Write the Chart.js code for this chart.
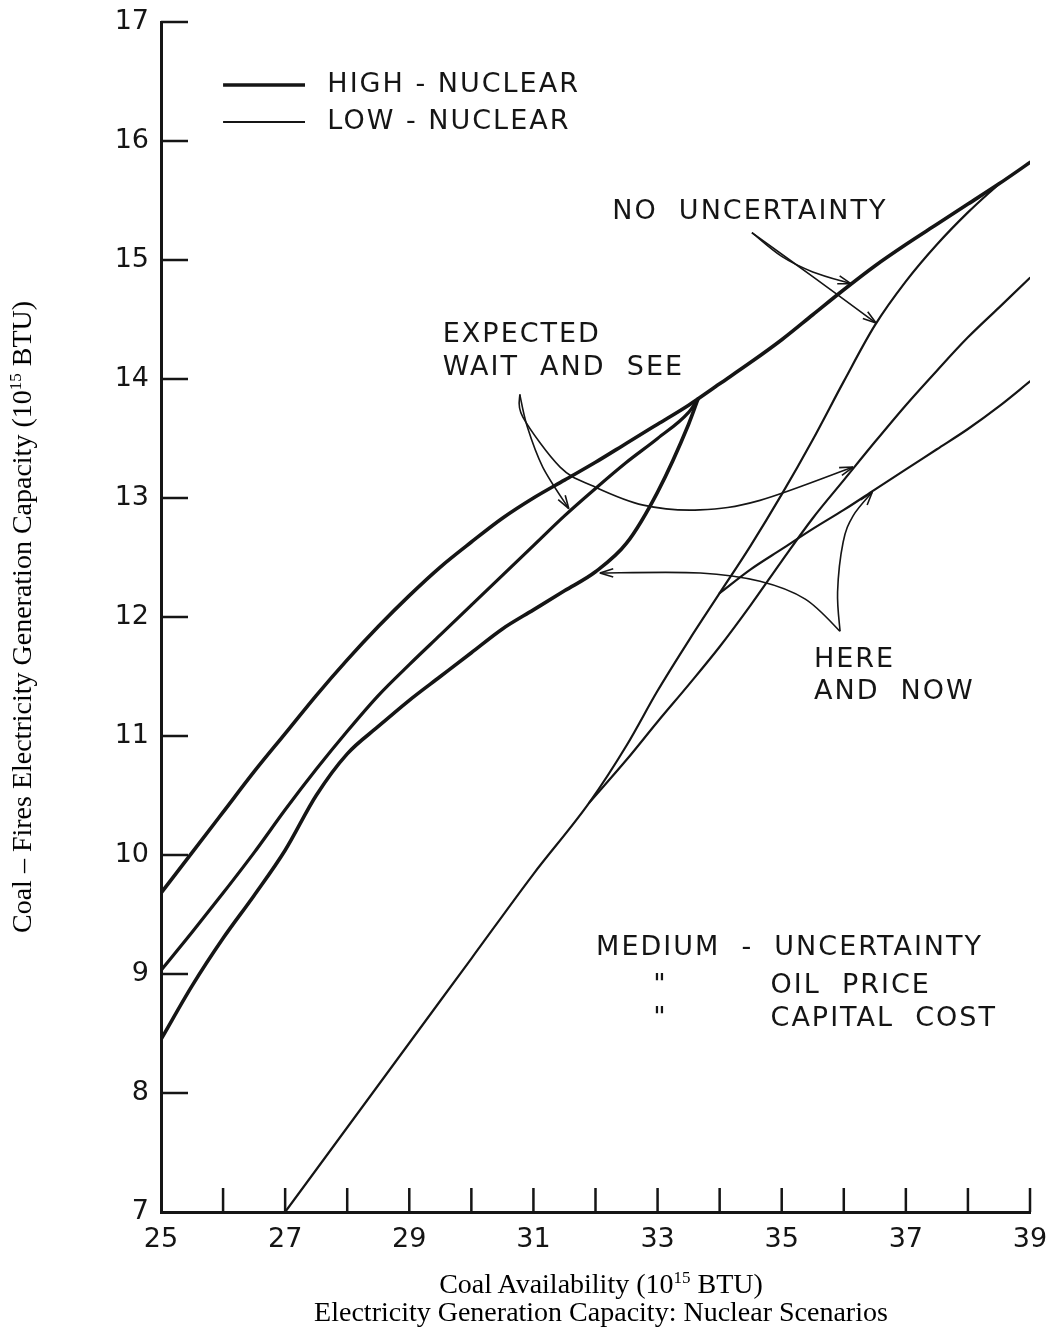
<!DOCTYPE html>
<html>
<head>
<meta charset="utf-8">
<title>Electricity Generation Capacity: Nuclear Scenarios</title>
<script src="https://cdn.jsdelivr.net/npm/chart.js@4.4.1/dist/chart.umd.min.js"></script>
<style>
  body { margin: 0; background: #fff; }
  #wrap { position: relative; width: 1046px; height: 1335px; }
  #chart { position: absolute; left: 0; top: 0; }
  .caption {
    position: absolute;
    font-family: 'Liberation Serif', 'Times New Roman', serif;
    font-size: 28px;
    color: #000;
    white-space: nowrap;
    line-height: 1;
  }
  .caption sup { font-size: 17px; vertical-align: 10px; line-height: 0; }
  #xTitle { left: 601px; top: 1270px; transform: translateX(-50%); }
  #chartTitle { left: 601px; top: 1298px; transform: translateX(-50%); }
  #yTitle { left: 22px; top: 617px; transform: translate(-50%, -50%) rotate(-90deg); }
</style>
</head>
<body>
<div id="wrap">
  <canvas id="chart" width="1046" height="1335"></canvas>
  <div class="caption" id="xTitle">Coal Availability (10<sup>15</sup> BTU)</div>
  <div class="caption" id="chartTitle">Electricity Generation Capacity: Nuclear Scenarios</div>
  <div class="caption" id="yTitle">Coal – Fires Electricity Generation Capacity (10<sup>15</sup> BTU)</div>
</div>
<script>
// DATA

// high-nuclear, no uncertainty (top envelope)
const highX = [25, 25.5, 26, 26.5, 27, 27.5, 28, 28.5, 29, 29.5, 30, 30.5, 31, 31.5, 32, 32.5, 33, 33.5, 34, 34.5, 35, 35.5, 36, 36.5, 37, 37.5, 38, 38.5, 39];
const highNoUncertainty = [9.68, 10.02, 10.36, 10.7, 11.02, 11.34, 11.64, 11.92, 12.18, 12.42, 12.63, 12.83, 13.0, 13.15, 13.3, 13.46, 13.62, 13.78, 13.96, 14.14, 14.33, 14.54, 14.75, 14.95, 15.13, 15.3, 15.47, 15.64, 15.82];

// high-nuclear, the two curves that join the envelope near 33.65
const highJoinX = [25, 25.5, 26, 26.5, 27, 27.5, 28, 28.5, 29, 29.5, 30, 30.5, 31, 31.5, 32, 32.5, 33, 33.5, 33.65];
const highWaitAndSee = [9.03, 9.35, 9.68, 10.02, 10.38, 10.72, 11.04, 11.34, 11.6, 11.85, 12.1, 12.35, 12.6, 12.85, 13.08, 13.3, 13.5, 13.72, 13.83];
const highHereAndNow = [8.45, 8.9, 9.3, 9.66, 10.04, 10.5, 10.85, 11.08, 11.3, 11.5, 11.7, 11.9, 12.06, 12.22, 12.38, 12.62, 13.05, 13.62, 13.83];

// low-nuclear
const lowNoUncX = [27, 28, 29, 30, 31, 31.9, 32.5, 33, 33.5, 34, 34.5, 35, 35.5, 36, 36.5, 37, 37.5, 38, 38.5];
const lowNoUncertainty = [7.0, 7.71, 8.42, 9.13, 9.84, 10.44, 10.92, 11.38, 11.8, 12.2, 12.6, 13.03, 13.49, 13.98, 14.45, 14.82, 15.13, 15.4, 15.64];

const lowWaitX = [31.9, 32.5, 33, 33.5, 34, 34.5, 35, 35.5, 36, 36.5, 37, 37.5, 38, 38.5, 39];
const lowWaitAndSee = [10.44, 10.8, 11.12, 11.43, 11.75, 12.1, 12.47, 12.83, 13.15, 13.47, 13.78, 14.07, 14.35, 14.6, 14.85];

const lowHereX = [34, 34.5, 35, 35.5, 36, 36.5, 37, 37.5, 38, 38.5, 39];
const lowHereAndNow = [12.2, 12.4, 12.57, 12.74, 12.9, 13.07, 13.24, 13.41, 13.58, 13.77, 13.98];

// axis ranges
const xRange = [25, 39];
const yRange = [7, 17];

// ANNOTATIONS (in data units)

const noteTexts = [
  { text: 'NO  UNCERTAINTY', x: 32.27, y: 15.4 },
  { text: 'EXPECTED', x: 29.54, y: 14.37 },
  { text: 'WAIT  AND  SEE', x: 29.54, y: 14.09 },
  { text: 'HERE', x: 35.52, y: 11.64 },
  { text: 'AND  NOW', x: 35.52, y: 11.37 },
  { text: 'MEDIUM  -  UNCERTAINTY', x: 32.01, y: 9.22 },
  { text: '"', x: 32.93, y: 8.9 },
  { text: 'OIL  PRICE', x: 34.82, y: 8.9 },
  { text: '"', x: 32.93, y: 8.62 },
  { text: 'CAPITAL  COST', x: 34.82, y: 8.62 },
];

const arrowPaths = [
  // no uncertainty
  [[34.52, 15.23], [35.0, 15.03], [35.5, 14.9], [36.12, 14.8]],
  [[34.52, 15.23], [35.5, 14.86], [36.52, 14.47]],
  // expected wait and see
  [[30.78, 13.87], [30.9, 13.6], [31.15, 13.26], [31.57, 12.91]],
  [[30.78, 13.87], [30.83, 13.68], [31.43, 13.26], [31.96, 13.1], [32.77, 12.94], [33.68, 12.9], [34.65, 12.98], [36.15, 13.26]],
  // here and now
  [[35.94, 11.88], [35.38, 12.15], [34.65, 12.3], [33.69, 12.37], [32.07, 12.37]],
  [[35.94, 11.88], [35.9, 12.21], [35.99, 12.63], [36.15, 12.85], [36.46, 13.05]],
];

const legendItems = [
  { text: 'HIGH - NUCLEAR', y: 16.47, width: 3.6 },
  { text: 'LOW - NUCLEAR', y: 16.16, width: 2 },
];

const ink = '#151515';
const letterFont = '27px "DejaVu Sans", sans-serif';

const toPoints = (xs, ys) => ys.map((v, i) => ({ x: xs[i], y: v }));

const lineSet = (label, xs, ys, width) => ({
  label,
  data: toPoints(xs, ys),
  borderColor: ink,
  borderWidth: width,
  pointRadius: 0,
  fill: false,
  cubicInterpolationMode: 'monotone',
  borderCapStyle: 'round',
});

// smooth curve through a list of pixel points (catmull-rom)
const smoothPath = (ctx, pts) => {
  ctx.moveTo(pts[0][0], pts[0][1]);
  for (let i = 0; i < pts.length - 1; i++) {
    const p0 = pts[i - 1] || pts[i];
    const p1 = pts[i];
    const p2 = pts[i + 1];
    const p3 = pts[i + 2] || p2;
    ctx.bezierCurveTo(
      p1[0] + (p2[0] - p0[0]) / 6, p1[1] + (p2[1] - p0[1]) / 6,
      p2[0] - (p3[0] - p1[0]) / 6, p2[1] - (p3[1] - p1[1]) / 6,
      p2[0], p2[1]
    );
  }
};

// Draws the inside tick marks, legend, notes and arrows
const sketchPlugin = {
  id: 'sketch',
  afterDatasetsDraw(chart) {
    const { ctx, scales: { x, y } } = chart;
    const px = (v) => x.getPixelForValue(v);
    const py = (v) => y.getPixelForValue(v);

    ctx.save();
    ctx.strokeStyle = ink;
    ctx.fillStyle = ink;
    ctx.lineCap = 'butt';

    // tick marks point into the plot
    ctx.lineWidth = 2.5;
    ctx.beginPath();
    for (let v = x.min + 1; v <= x.max; v++) {
      ctx.moveTo(px(v), y.bottom);
      ctx.lineTo(px(v), y.bottom - 24);
    }
    for (let v = y.min + 1; v <= y.max; v++) {
      ctx.moveTo(x.left, py(v));
      ctx.lineTo(x.left + 27, py(v));
    }
    ctx.stroke();

    // legend
    ctx.font = letterFont;
    ctx.letterSpacing = '2px';
    ctx.textBaseline = 'middle';
    ctx.textAlign = 'left';
    legendItems.forEach((item) => {
      ctx.lineWidth = item.width;
      ctx.beginPath();
      ctx.moveTo(px(26.0), py(item.y));
      ctx.lineTo(px(27.32), py(item.y));
      ctx.stroke();
      ctx.fillText(item.text, px(27.68), py(item.y));
    });

    // notes
    noteTexts.forEach((n) => ctx.fillText(n.text, px(n.x), py(n.y)));

    // arrows
    ctx.lineWidth = 1.6;
    arrowPaths.forEach((path) => {
      const pts = path.map(([a, b]) => [px(a), py(b)]);
      ctx.beginPath();
      smoothPath(ctx, pts);
      ctx.stroke();
      const [tx, ty] = pts[pts.length - 1];
      const [sx, sy] = pts[pts.length - 2];
      const ang = Math.atan2(ty - sy, tx - sx);
      ctx.beginPath();
      ctx.moveTo(tx, ty);
      ctx.lineTo(tx - 14 * Math.cos(ang - 0.3), ty - 14 * Math.sin(ang - 0.3));
      ctx.moveTo(tx, ty);
      ctx.lineTo(tx - 14 * Math.cos(ang + 0.3), ty - 14 * Math.sin(ang + 0.3));
      ctx.stroke();
    });

    ctx.restore();
  },
};

const tickFont = { family: '"DejaVu Sans", sans-serif', size: 27 };

new Chart(document.getElementById('chart'), {
  type: 'line',
  data: {
    datasets: [
      lineSet('High-nuclear no uncertainty', highX, highNoUncertainty, 3.6),
      lineSet('High-nuclear expected wait and see', highJoinX, highWaitAndSee, 3.2),
      lineSet('High-nuclear here and now', highJoinX, highHereAndNow, 3.6),
      lineSet('Low-nuclear no uncertainty', lowNoUncX, lowNoUncertainty, 2.2),
      lineSet('Low-nuclear expected wait and see', lowWaitX, lowWaitAndSee, 2.2),
      lineSet('Low-nuclear here and now', lowHereX, lowHereAndNow, 2.2),
    ],
  },
  options: {
    responsive: false,
    animation: false,
    layout: { padding: { top: 22, right: 16, bottom: 0, left: 0 } },
    plugins: {
      legend: { display: false },
      tooltip: { enabled: false },
    },
    scales: {
      x: {
        type: 'linear',
        min: xRange[0],
        max: xRange[1],
        grid: { display: false, drawTicks: false },
        border: { display: true, color: ink, width: 3 },
        ticks: {
          stepSize: 1,
          autoSkip: false,
          maxRotation: 0,
          padding: 12,
          color: ink,
          font: tickFont,
          callback: (v) => ((v - xRange[0]) % 2 === 0 ? String(v) : ''),
        },
        afterFit: (s) => {
          s.height = 123;
          s.paddingLeft = 0;
          s.paddingRight = 0;
        },
      },
      y: {
        min: yRange[0],
        max: yRange[1],
        grid: { display: false, drawTicks: false },
        border: { display: true, color: ink, width: 3 },
        ticks: {
          stepSize: 1,
          autoSkip: false,
          padding: 12,
          color: ink,
          font: tickFont,
        },
        afterFit: (s) => {
          s.width = 161;
          s.paddingTop = 0;
          s.paddingBottom = 0;
        },
      },
    },
  },
  plugins: [sketchPlugin],
});
</script>
</body>
</html>
